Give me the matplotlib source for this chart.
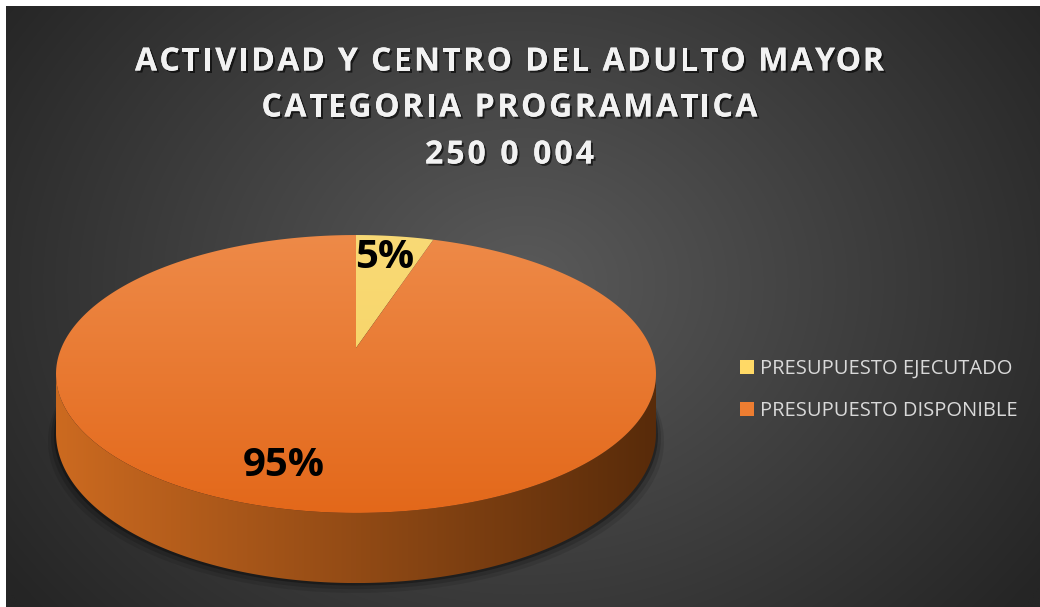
#!/usr/bin/env python3
"""3D-style pie: ejecutado vs disponible, Actividad y Centro del Adulto Mayor."""

import numpy as np
import matplotlib

matplotlib.use("Agg")
import matplotlib.pyplot as plt
import matplotlib.patheffects as pe
from matplotlib.font_manager import FontProperties
from matplotlib.patches import Patch, Polygon

TITLE_LINES = [
    "ACTIVIDAD Y CENTRO DEL ADULTO MAYOR",
    "CATEGORIA PROGRAMATICA",
    "250 0 004",
]
CATEGORIES = ["PRESUPUESTO EJECUTADO", "PRESUPUESTO DISPONIBLE"]
SHARES = [5, 95]
LABELS = ["5%", "95%"]
TOP_COLORS = [("#f9da76", "#f5d05c"), ("#ee8a48", "#e3681a")]
LEGEND_COLORS = ["#ffd966", "#ed7d31"]

W, H = 1040, 607
# pie geometry in pixels (perspective view)
CX, CY = 356, 348
A, B, K = 294.7, 134.1, 0.187
DEPTH = 57


def proj(theta, drop=0.0):
    u, v = np.cos(theta), np.sin(theta)
    s = 1 + K * v
    return CX + A * u / s, CY - (B * v - drop) / s


def gradient_fill(ax, poly_xy, c0, c1, vertical=True, extent=None):
    patch = Polygon(poly_xy, closed=True, facecolor="none", edgecolor="none")
    ax.add_patch(patch)
    x0, x1 = poly_xy[:, 0].min(), poly_xy[:, 0].max()
    y0, y1 = poly_xy[:, 1].min(), poly_xy[:, 1].max()
    if extent is not None:
        x0, x1, y0, y1 = extent
    t = np.linspace(0, 1, 256)
    rgb0 = np.array(matplotlib.colors.to_rgb(c0))
    rgb1 = np.array(matplotlib.colors.to_rgb(c1))
    ramp = rgb0[None, :] * (1 - t[:, None]) + rgb1[None, :] * t[:, None]
    img = ramp[:, None, :] if vertical else ramp[None, :, :]
    im = ax.imshow(img, extent=(x0, x1, y1, y0), aspect="auto", interpolation="bicubic", zorder=3)
    im.set_clip_path(patch)
    return im


def spaced_text(ax, renderer, s, xc, y, target_w, fp, **kw):
    """Draw s centred at xc with extra letter spacing so it spans target_w px."""
    def width(txt):
        return renderer.get_text_width_height_descent(txt, fp, ismath=False)[0]

    bar = width("|")
    offs = [width(s[:i] + "|") - bar if i else 0.0 for i in range(len(s))]
    natural = width(s)
    track = (target_w - natural) / max(len(s) - 1, 1)
    x0 = xc - target_w / 2
    for i, ch in enumerate(s):
        if ch == " ":
            continue
        ax.text(x0 + offs[i] + i * track, y, ch, ha="left", va="center",
                fontproperties=fp, **kw)


fig = plt.figure(figsize=(W / 100, H / 100), dpi=100)
fig.patch.set_facecolor("white")
ax = fig.add_axes([0, 0, 1, 1])
ax.set_xlim(0, W)
ax.set_ylim(H, 0)
ax.axis("off")
renderer = fig.canvas.get_renderer()

# radial dark background
yy, xx = np.mgrid[0:H, 0:W]
r = np.hypot((xx - 520) / 640, (yy - 280) / 520)
r = np.clip(r, 0, 1)
inner = np.array([0x5a, 0x5a, 0x5a]) / 255
outer = np.array([0x25, 0x25, 0x25]) / 255
bg = inner[None, None, :] * (1 - r[..., None]) + outer[None, None, :] * r[..., None]
ax.imshow(bg, extent=(6, W, H, 6), aspect="auto", zorder=0)

# slice angles: start at top, go clockwise
fracs = np.array(SHARES, dtype=float) / sum(SHARES)
edges = np.pi / 2 - 2 * np.pi * np.concatenate([[0], np.cumsum(fracs)])

# soft shadow under the pie
t_all = np.linspace(0, 2 * np.pi, 400)
for grow, alpha in [(8, 0.10), (5, 0.15), (2, 0.3)]:
    sx, sy = proj(t_all, DEPTH + grow)
    sx = CX + (sx - CX) * (1 + grow / 300)
    ax.fill(sx, sy, color="black", alpha=alpha, lw=0, zorder=1)

# side wall (front half, between silhouette tangents)
t0 = np.pi + np.arcsin(K)
t1 = 2 * np.pi - np.arcsin(K)
ts = np.linspace(t0, t1, 300)
tx, ty = proj(ts)
bx, by = proj(ts[::-1], DEPTH)
side = np.column_stack([np.concatenate([tx, bx]), np.concatenate([ty, by])])
gradient_fill(ax, side, "#cc6a20", "#582b0a", vertical=False)

# top face wedges
top_extent = (CX - 302, CX + 302, 235, 514)
for i in range(len(SHARES)):
    th = np.linspace(edges[i], edges[i + 1], 300)
    px, py = proj(th)
    poly = np.column_stack([np.concatenate([[CX], px]), np.concatenate([[CY], py])])
    gradient_fill(ax, poly, TOP_COLORS[i][0], TOP_COLORS[i][1], extent=top_extent)

# data labels
label_pos = [(385, 258), (284, 466)]
for lab, (lx, ly) in zip(LABELS, label_pos):
    ax.text(lx, ly, lab, ha="center", va="center", fontsize=29, fontweight="bold",
            family="Open Sans", color="black", zorder=5)

# title, letter-spaced like the original
shadow = [pe.withSimplePatchShadow(offset=(1.5, -1.5), shadow_rgbFace="black", alpha=0.6),
          pe.Normal()]
title_fp = FontProperties(family="Open Sans", weight="bold", size=23)
for line, y, tw in zip(TITLE_LINES, [62, 108, 155], [749, 496, 169]):
    spaced_text(ax, renderer, line, 509.5, y, tw, title_fp, color="#f2f2f2",
                zorder=5, path_effects=shadow)

# legend
handles = [Patch(facecolor=c, edgecolor="none") for c in LEGEND_COLORS]
fig.legend(handles, CATEGORIES, loc="center left", bbox_to_anchor=(740 / W, 1 - 390 / H),
           frameon=False, prop={"family": "Open Sans", "size": 14.5}, labelcolor="#d9d9d9",
           handlelength=0.7, handleheight=0.7, handletextpad=0.3, labelspacing=1.12,
           borderpad=0, borderaxespad=0)

fig.savefig("out.png", dpi=100, facecolor=fig.get_facecolor())
